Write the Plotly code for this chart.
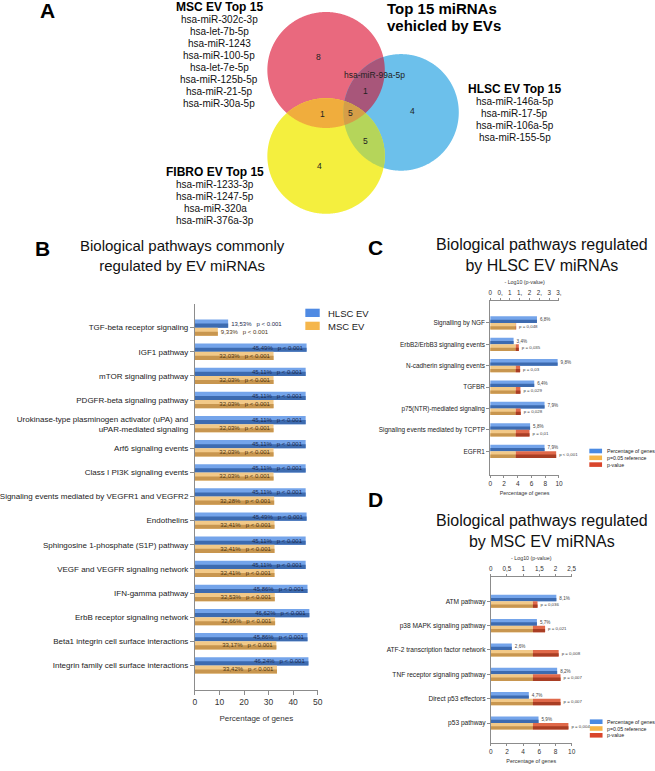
import numpy as np
import plotly.graph_objects as go

W, H = 655, 771
FONT = "Liberation Sans, Arial, sans-serif"

# ---------------- DATA ----------------
# Panel A - Venn of top-15 miRNAs
msc_only_mirnas = ["hsa-miR-302c-3p", "hsa-let-7b-5p", "hsa-miR-1243", "hsa-miR-100-5p",
                   "hsa-let-7e-5p", "hsa-miR-125b-5p", "hsa-miR-21-5p", "hsa-miR-30a-5p"]
hlsc_only_mirnas = ["hsa-miR-146a-5p", "hsa-miR-17-5p", "hsa-miR-106a-5p", "hsa-miR-155-5p"]
fibro_only_mirnas = ["hsa-miR-1233-3p", "hsa-miR-1247-5p", "hsa-miR-320a", "hsa-miR-376a-3p"]
msc_hlsc_mirnas = ["hsa-miR-99a-5p"]
venn_regions = ["MSC", "HLSC", "FIBRO", "MSC&HLSC", "MSC&FIBRO", "HLSC&FIBRO", "ALL"]
venn_counts = [8, 4, 4, 1, 1, 5, 5]
venn_title = ["Top 15 miRNAs", "vehicled by EVs"]

# Panel B
b_pathways = ["TGF-beta receptor signaling", "IGF1 pathway", "mTOR signaling pathway",
              "PDGFR-beta signaling pathway",
              "Urokinase-type plasminogen activator (uPA) and<br>uPAR-mediated signaling",
              "Arf6 signaling events", "Class I PI3K signaling events",
              "Signaling events mediated by VEGFR1 and VEGFR2", "Endothelins",
              "Sphingosine 1-phosphate (S1P) pathway", "VEGF and VEGFR signaling network",
              "IFN-gamma pathway", "ErbB receptor signaling network",
              "Beta1 integrin cell surface interactions", "Integrin family cell surface interactions"]
b_hlsc_pct = [13.53, 45.49, 45.11, 45.11, 45.11, 45.11, 45.11, 45.11, 45.49, 45.11, 45.11,
              45.86, 46.62, 45.86, 46.24]
b_msc_pct = [9.33, 32.03, 32.03, 32.03, 32.03, 32.03, 32.03, 32.28, 32.41, 32.41, 32.41,
             32.53, 32.66, 33.17, 33.42]
b_p_label = ["p < 0.001"] * 15

# Panel C
c_pathways = ["Signalling by NGF", "ErbB2/ErbB3 signaling events", "N-cadherin signaling events",
              "TGFBR", "p75(NTR)-mediated signaling", "Signaling events mediated by TCPTP", "EGFR1"]
c_pct = [6.8, 3.4, 9.8, 6.4, 7.9, 5.8, 7.9]
c_pvalue = [0.048, 0.035, 0.03, 0.029, 0.028, 0.01, 0.00044]
c_p_label = ["p = 0,048", "p = 0,035", "p = 0,03", "p = 0,029", "p = 0,028", "p = 0,01", "p < 0,001"]
c_top_ticks = ["0", "0,", "1", "1,", "2", "2,", "3", "3,"]

# Panel D
d_pathways = ["ATM pathway", "p38 MAPK signaling pathway", "ATF-2 transcription factor network",
              "TNF receptor signaling pathway", "Direct p53 effectors", "p53 pathway"]
d_pct = [8.1, 5.7, 2.6, 8.2, 4.7, 5.9]
d_pvalue = [0.036, 0.021, 0.008, 0.007, 0.007, 0.004]
d_p_label = ["p = 0,036", "p = 0,021", "p = 0,008", "p = 0,007", "p = 0,007", "p = 0,004"]

legend_b = ["HLSC EV", "MSC EV"]
legend_cd = ["Percentage of genes", "p=0.05 reference", "p-value"]

P_REF = 0.05

# ---------------- helpers ----------------
def px(x):
    return x / W


def py(y):
    return 1 - y / H


def comma(v, nd):
    return f"{v:.{nd}f}".replace(".", ",")


fig = go.Figure()


def add_bars(y, x, base, offset, width, light, dark, xa, ya, text=None, textpos="inside",
             tcolor="#333", tsize=6):
    common = dict(orientation="h", y=y, base=base, xaxis=xa, yaxis=ya,
                  showlegend=False, hoverinfo="skip")
    fig.add_trace(go.Bar(x=x, offset=offset, width=width,
                         marker=dict(color=light, line=dict(width=0)), **common))
    fig.add_trace(go.Bar(x=x, offset=offset + width * 0.5, width=width * 0.5,
                         marker=dict(color=dark, line=dict(width=0)), **common))
    if text is not None:
        fig.add_trace(go.Bar(x=x, offset=offset, width=width,
                             marker=dict(color="rgba(0,0,0,0)", line=dict(width=0)),
                             text=text, textposition=textpos, insidetextanchor="end",
                             constraintext="none", cliponaxis=False,
                             textfont=dict(size=tsize, color=tcolor, family=FONT), **common))


BLUE_L, BLUE_D = "#74a4ea", "#3d6bb0"
OR_L, OR_D = "#f2c988", "#c8964f"
RED_L, RED_D = "#e0694a", "#a93e24"
NBSP = "\u00a0"

# ---------------- Panel B ----------------
yb = np.arange(len(b_pathways))
bw = 0.34
b_txt_h = [f"{comma(v, 2)}%{NBSP*3}{p}" for v, p in zip(b_hlsc_pct, b_p_label)]
b_txt_m = [f"{comma(v, 2)}%{NBSP*3}{p}" for v, p in zip(b_msc_pct, b_p_label)]
b_pos_h = ["outside" if v < 20 else "inside" for v in b_hlsc_pct]
b_pos_m = ["outside" if v < 20 else "inside" for v in b_msc_pct]
add_bars(yb, b_hlsc_pct, 0, -bw, bw, BLUE_L, BLUE_D, "x", "y", b_txt_h, b_pos_h, "#1b2a4e", 6)
add_bars(yb, b_msc_pct, 0, 0, bw, OR_L, OR_D, "x", "y", b_txt_m, b_pos_m, "#4d3511", 6)

# ---------------- Panel C ----------------
REF = -np.log10(P_REF)
yc = np.arange(len(c_pathways))
cw = 0.31
c_log = -np.log10(np.array(c_pvalue))
add_bars(yc, c_pct, 0, -cw, cw, BLUE_L, BLUE_D, "x2", "y2",
         [f"{comma(v, 1)}%" for v in c_pct], "outside", "#444", 4.6)
add_bars(yc, [REF] * len(yc), 0, 0, cw, OR_L, OR_D, "x3", "y2")
add_bars(yc, c_log - REF, REF, 0, cw, RED_L, RED_D, "x3", "y2", c_p_label, "outside", "#444", 4.4)

# ---------------- Panel D ----------------
yd = np.arange(len(d_pathways))
dw = 0.27
d_log = -np.log10(np.array(d_pvalue))
add_bars(yd, d_pct, 0, -dw, dw, BLUE_L, BLUE_D, "x4", "y3",
         [f"{comma(v, 1)}%" for v in d_pct], "outside", "#444", 4.6)
add_bars(yd, [REF] * len(yd), 0, 0, dw, OR_L, OR_D, "x5", "y3")
add_bars(yd, d_log - REF, REF, 0, dw, RED_L, RED_D, "x5", "y3", d_p_label, "outside", "#444", 4.4)

# ---------------- Axes ----------------
LC = "#8c8c8c"
ax = dict(showgrid=False, zeroline=False, showline=True, linecolor=LC, linewidth=1,
          ticks="outside", tickcolor=LC, fixedrange=True)

fig.update_layout(
    xaxis=dict(ax, domain=[px(190), px(315.4)], anchor="y", range=[0, 50], dtick=10, ticklen=4,
               tickfont=dict(size=8.5, color="#333"),
               title=dict(text="Percentage of genes", font=dict(size=8, color="#333"), standoff=9)),
    yaxis=dict(ax, domain=[py(690), py(304)], anchor="x", range=[len(yb) - 1 + 1.02, -0.98],
               tickvals=list(yb), ticktext=b_pathways, ticklen=4,
               tickfont=dict(size=8, color="#222")),
    xaxis2=dict(ax, domain=[px(491.7), px(562)], anchor="y2", range=[0, 10], dtick=2, ticklen=2,
                tickfont=dict(size=6.5, color="#333"),
                title=dict(text="Percentage of genes", font=dict(size=5.4, color="#333"), standoff=5)),
    xaxis3=dict(ax, overlaying="x2", side="top", anchor="y2", range=[0, 3.5],
                tickvals=[i * 0.5 for i in range(len(c_top_ticks))], ticktext=c_top_ticks, ticklen=2,
                tickfont=dict(size=6.3, color="#333"),
                title=dict(text="- Log10 (p-value)", font=dict(size=5.3, color="#333"), standoff=4)),
    yaxis2=dict(ax, domain=[py(475), py(300.7)], anchor="x2", range=[len(yc) - 1 + 1.11, -1.04],
                tickvals=list(yc), ticktext=c_pathways, ticklen=3,
                tickfont=dict(size=6.4, color="#222")),
    xaxis4=dict(ax, domain=[px(492.3), px(575)], anchor="y3", range=[0, 10], dtick=2, ticklen=2,
                tickfont=dict(size=6.5, color="#333"),
                title=dict(text="Percentage of genes", font=dict(size=5.4, color="#333"), standoff=5)),
    xaxis5=dict(ax, overlaying="x4", side="top", anchor="y3", range=[0, 2.5], dtick=0.5, ticklen=2,
                tickfont=dict(size=6.3, color="#333"),
                title=dict(text="- Log10 (p-value)", font=dict(size=5.3, color="#333"), standoff=4)),
    yaxis3=dict(ax, domain=[py(743), py(576.7)], anchor="x4", range=[len(yd) - 1 + 0.82, -1.01],
                tickvals=list(yd), ticktext=d_pathways, ticklen=3,
                tickfont=dict(size=6.6, color="#222")),
)

# ---------------- Venn (shapes) ----------------
E_MSC = (324.0, 70.0, 60.0, 58.0)
E_HLSC = (400.6, 112.4, 59.0, 58.3)
E_FIBRO = (324.0, 156.0, 60.0, 57.8)


def ell_pts(e, n=720):
    cx, cy, rx, ry = e
    t = np.linspace(0, 2 * np.pi, n, endpoint=False)
    return np.c_[cx + rx * np.cos(t), cy + ry * np.sin(t)]


def inside(p, e):
    cx, cy, rx, ry = e
    return ((p[:, 0] - cx) / rx) ** 2 + ((p[:, 1] - cy) / ry) ** 2 <= 1 + 1e-9


def region_path(ells):
    pts = []
    for i, e in enumerate(ells):
        p = ell_pts(e)
        m = np.ones(len(p), bool)
        for j, f in enumerate(ells):
            if j != i:
                m &= inside(p, f)
        pts.append(p[m])
    P = np.vstack(pts)
    c = P.mean(axis=0)
    P = P[np.argsort(np.arctan2(P[:, 1] - c[1], P[:, 0] - c[0]))]
    return "M" + "L".join(f"{px(a):.5f},{py(b):.5f}" for a, b in P) + "Z"


shapes = []
for ells, col in [([E_MSC], "#e9697e"), ([E_HLSC], "#6cc0eb"), ([E_FIBRO], "#f4ef3e"),
                  ([E_MSC, E_HLSC], "#a8567a"), ([E_MSC, E_FIBRO], "#f0ad3d"),
                  ([E_HLSC, E_FIBRO], "#b5d55a"), ([E_MSC, E_HLSC, E_FIBRO], "#d59e48")]:
    shapes.append(dict(type="path", xref="paper", yref="paper", path=region_path(ells),
                       fillcolor=col, line=dict(width=0), layer="below"))

# legends (manual swatches)
for i, col in enumerate(["#4f8ae3", "#f5b64c"]):
    y0 = 308.7 + i * 13
    shapes.append(dict(type="rect", xref="paper", yref="paper", x0=px(302.8), x1=px(317.5),
                       y0=py(y0 + 8.3), y1=py(y0), fillcolor=col, line=dict(width=0)))
for base_y, x0 in [(451, 593), (721.7, 593.5)]:
    for i, col in enumerate(["#4b8ae2", "#f7b649", "#d9452b"]):
        yc0 = base_y + i * 6.8
        shapes.append(dict(type="rect", xref="paper", yref="paper", x0=px(x0), x1=px(x0 + 13),
                           y0=py(yc0 + 2.3), y1=py(yc0 - 2.3), fillcolor=col, line=dict(width=0)))

# ---------------- Annotations ----------------
ann = []


def T(x, y, text, size, bold=False, xanchor="center", color="#111"):
    ann.append(dict(xref="paper", yref="paper", x=px(x), y=py(y), text=f"<b>{text}</b>" if bold else text,
                    showarrow=False, xanchor=xanchor, yanchor="middle",
                    font=dict(size=size, color=color, family=FONT)))


# panel letters
for L, x, y in [("A", 39, 11), ("B", 34, 248.5), ("C", 375, 247.5), ("D", 374.5, 499.5)]:
    T(x, y, L, 21, bold=True, color="#000")

# Venn texts
for k, s in enumerate(venn_title):
    T(384.3, 9 + 17 * k, s, 15, bold=True, xanchor="left", color="#000")
T(215, 7.5, "MSC EV Top 15", 12, bold=True, color="#000")
for k, s in enumerate(msc_only_mirnas):
    T(215, 19.3 + 12.05 * k, s, 10, color="#111")
T(516.7, 89, "HLSC EV Top 15", 12, bold=True, color="#000")
for k, s in enumerate(hlsc_only_mirnas):
    T(516.7, 101.7 + 12 * k, s, 10, color="#111")
T(211, 172.3, "FIBRO EV Top 15", 12, bold=True, color="#000")
for k, s in enumerate(fibro_only_mirnas):
    T(211, 184.5 + 12.1 * k, s, 10, color="#111")
T(373.9, 75.3, msc_hlsc_mirnas[0], 8.5, color="#222")
count_pos = {"MSC": (316.5, 57.3), "HLSC": (412.3, 111), "FIBRO": (317.5, 166),
             "MSC&HLSC": (364.2, 90.7), "MSC&FIBRO": (320.4, 114), "HLSC&FIBRO": (364.7, 140.7),
             "ALL": (348.8, 112.7)}
for r, c in zip(venn_regions, venn_counts):
    T(*count_pos[r], str(c), 8.5, color="#222")

# panel titles
T(177, 256, "Biological pathways commonly<br>regulated by EV miRNAs", 15, color="#111")
T(545, 255, "Biological pathways regulated<br>by HLSC EV miRNAs", 16, color="#111")
T(545, 531, "Biological pathways regulated<br>by MSC EV miRNAs", 16, color="#111")

# legend texts
for i, s in enumerate(legend_b):
    T(323.7, 313 + i * 13, s, 9.5, xanchor="left", color="#222")
for base_y, x0 in [(451, 609), (721.7, 609)]:
    for i, s in enumerate(legend_cd):
        T(x0, base_y + i * 6.8, s, 5.2, xanchor="left", color="#222")

fig.update_layout(
    width=W, height=H, margin=dict(l=0, r=0, t=0, b=0),
    paper_bgcolor="white", plot_bgcolor="white",
    font=dict(family=FONT, color="#222"),
    barmode="overlay", separators=",.", showlegend=False,
    shapes=shapes, annotations=ann,
)

fig.write_html("out.html", config={"displayModeBar": False, "staticPlot": True},
               post_script="document.body.style.margin='0px';document.body.style.overflow='hidden';")
